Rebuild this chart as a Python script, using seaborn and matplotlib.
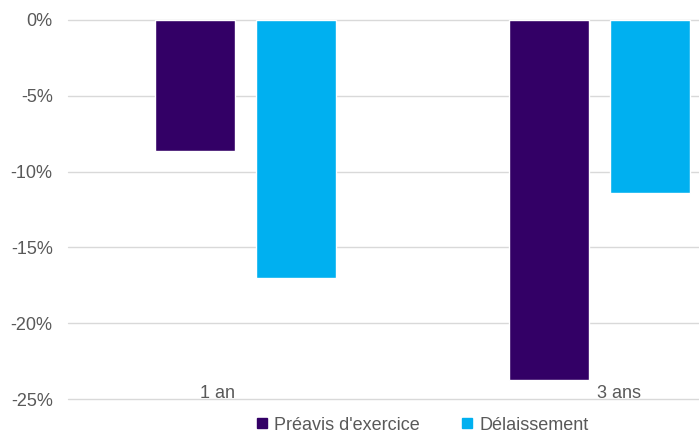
import matplotlib
matplotlib.use("Agg")
import matplotlib.pyplot as plt
from matplotlib.lines import Line2D
import seaborn as sns
import pandas as pd

periods = ["1 an", "3 ans"]
series = ["Préavis d'exercice", "Délaissement"]
preavis = [-8.65, -23.75]
delaissement = [-17.0, -11.4]
yticks = [0, -5, -10, -15, -20, -25]
colors = ["#330066", "#00B0F0"]

df = pd.DataFrame({
    "period": periods * 2,
    "series": [series[0]] * 2 + [series[1]] * 2,
    "value": preavis + delaissement,
})

sns.set_theme(style="white")
plt.rcParams["font.family"] = ["Liberation Sans", "DejaVu Sans"]
grey = "#595959"

fig = plt.figure(figsize=(6.99, 4.34), dpi=100)
ax = fig.add_axes([68 / 699, 1 - 399 / 434, 1 - 68 / 699, (399 - 20) / 434])

sns.barplot(data=df, x="period", y="value", hue="series", hue_order=series,
            palette=colors, width=0.57, gap=0.21, saturation=1,
            ax=ax, legend=False)

ax.set_ylim(-25, 0)
ax.set_xlim(-0.5, (699 - 68) / 354.5 - 0.5)
ax.set_yticks(yticks)
ax.set_yticklabels([f"{v}%" for v in yticks], color=grey, fontsize=13)
ax.tick_params(axis="y", length=0, pad=11)
ax.set_xticks([])
ax.set_xlabel("")
ax.set_ylabel("")
ax.yaxis.grid(True, color="#d9d9d9", linewidth=1)
for gl in ax.get_ygridlines():
    gl.set_clip_on(False)
ax.set_axisbelow(True)
for s in ax.spines.values():
    s.set_visible(False)

# period labels sitting just above the bottom gridline
label_x = [-0.078, 1.054]
for xi, lab in zip(label_x, periods):
    ax.text(xi, -24.65, lab, ha="center", va="center", color=grey, fontsize=13,
            clip_on=False)

handles = [Line2D([], [], marker="s", linestyle="none", markersize=7,
                  markerfacecolor=c, markeredgecolor=c) for c in colors]
fig.legend(handles, series, loc="center", bbox_to_anchor=(422 / 699, 1 - 425 / 434),
           ncol=2, frameon=False, fontsize=13, labelcolor=grey,
           handlelength=0.7, handletextpad=0.3, columnspacing=2.3,
           borderaxespad=0, borderpad=0)

fig.savefig("out.png", dpi=100)
